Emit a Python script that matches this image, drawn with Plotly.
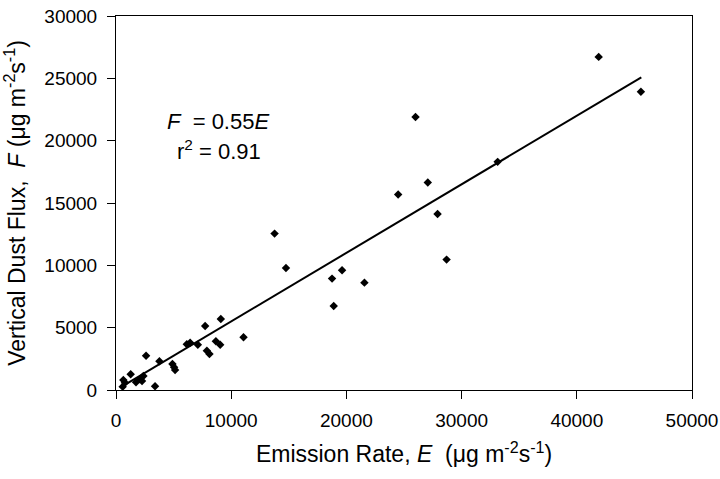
import plotly.graph_objects as go

emission = [580, 637, 780, 1275, 1739, 2087, 2260, 2377, 2609, 3390, 3768, 4900, 5043, 5130,
            6148, 6435, 7104, 7739, 7887, 8113, 8670, 9043, 9100, 11070, 13765, 14754, 18754,
            18899, 19623, 21565, 24493, 26000, 27065, 27913, 28696, 33130, 41900, 45565]
flux = [265, 800, 585, 1258, 618, 860, 722, 1124, 2753, 300, 2300, 2087, 1820, 1605,
        3668, 3796, 3636, 5136, 3154, 2889, 3909, 3636, 5698, 4230, 12545, 9791, 8935,
        6742, 9606, 8612, 15675, 21900, 16640, 14125, 10458, 18300, 26720, 23917]

x_ticks = [0, 10000, 20000, 30000, 40000, 50000]
y_ticks = [0, 5000, 10000, 15000, 20000, 25000, 30000]

slope = 0.55
fit_e = [500, 45600]
fit_f = [slope * e for e in fit_e]

font_family = "Liberation Sans, Arial, sans-serif"

fig = go.Figure()
fig.add_trace(go.Scatter(x=fit_e, y=fit_f, mode="lines",
                         line=dict(color="black", width=2), showlegend=False))
fig.add_trace(go.Scatter(x=emission, y=flux, mode="markers",
                         marker=dict(symbol="diamond", size=6.5, color="black"),
                         showlegend=False))

fig.add_annotation(x=0.177, y=0.717, xref="paper", yref="paper", showarrow=False,
                   xanchor="center", yanchor="middle",
                   text="<i>F</i>  = 0.55<i>E</i>",
                   font=dict(size=22, color="black", family=font_family))
fig.add_annotation(x=0.178, y=0.642, xref="paper", yref="paper", showarrow=False,
                   xanchor="center", yanchor="middle",
                   text="r<sup>2</sup> = 0.91",
                   font=dict(size=22, color="black", family=font_family))

axis_common = dict(showline=True, linecolor="black", linewidth=1, mirror=True,
                   ticks="outside", ticklen=8, tickcolor="black", showgrid=False,
                   zeroline=False, automargin=False,
                   tickfont=dict(size=19, color="black", family=font_family))

fig.update_xaxes(range=[0, 50000], tickvals=x_ticks,
                 ticktext=[str(v) for v in x_ticks], ticklabelstandoff=5,
                 title=dict(text="Emission Rate, <i>E</i>  (μg m<sup>-2</sup>s<sup>-1</sup>)",
                            font=dict(size=23, color="black", family=font_family), standoff=16),
                 **axis_common)
fig.update_yaxes(range=[0, 30000], tickvals=y_ticks,
                 ticktext=[str(v) for v in y_ticks], ticklabelstandoff=6,
                 title=dict(text="Vertical Dust Flux,  <i>F</i> (μg m<sup>-2</sup>s<sup>-1</sup>)",
                            font=dict(size=23, color="black", family=font_family), standoff=20),
                 **axis_common)

fig.update_layout(width=720, height=479, margin=dict(l=116, r=28, t=16, b=89),
                  plot_bgcolor="white", paper_bgcolor="white",
                  font=dict(family=font_family, color="black"))

fig.write_html("out.html", config={"displayModeBar": False},
               post_script="document.body.style.margin='0';")
